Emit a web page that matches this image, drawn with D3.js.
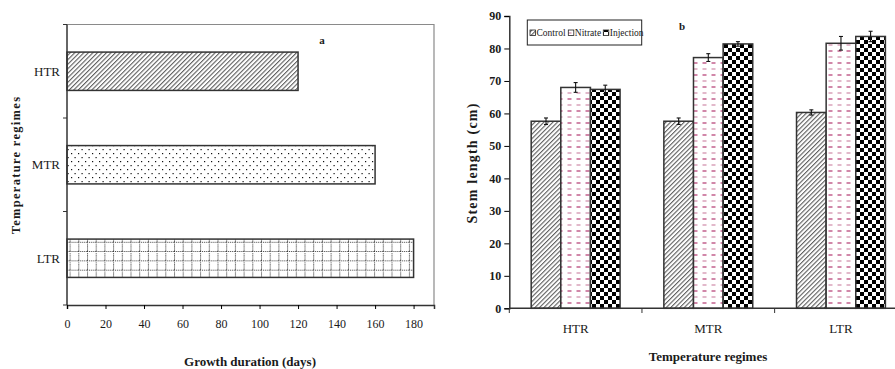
<!DOCTYPE html>
<html><head><meta charset="utf-8">
<script src="https://cdn.jsdelivr.net/npm/d3@7/dist/d3.min.js"></script>
<style>body{margin:0;background:#fff}svg{display:block}text{font-family:"Liberation Serif","Times New Roman",serif;fill:#1a1a1a}</style>
</head><body><svg id="c" width="895" height="369"></svg>
<script>
// ---- data: panel a ----
const regimesA = ["HTR", "MTR", "LTR"];
const growthDays = [120, 160, 180];
const ticksA = [0, 20, 40, 60, 80, 100, 120, 140, 160, 180];
// ---- data: panel b ----
const regimesB = ["HTR", "MTR", "LTR"];
const seriesB = ["Control", "Nitrate", "Injection"];
const controlVals = [57.6, 57.6, 60.3];
const nitrateVals = [68.0, 77.2, 81.6];
const injectionVals = [67.4, 81.4, 83.7];
const controlErr = [1.0, 1.0, 0.8];
const nitrateErr = [1.5, 1.2, 2.1];
const injectionErr = [1.3, 0.7, 1.6];
const ticksB = [0, 10, 20, 30, 40, 50, 60, 70, 80, 90];

const svg = d3.select("#c");
const defs = svg.append("defs");
// patterns
function pat(id, w, h, tr) {
  const p = defs.append("pattern").attr("id", id).attr("patternUnits", "userSpaceOnUse")
    .attr("width", w).attr("height", h);
  if (tr) p.attr("patternTransform", tr);
  p.append("rect").attr("width", w).attr("height", h).attr("fill", "#fff");
  return p;
}
let p = pat("hatch", 3.2, 3.2, "rotate(45)");
p.append("line").attr("x1", 0.6).attr("x2", 0.6).attr("y1", 0).attr("y2", 3.2).attr("stroke", "#3a3a3a").attr("stroke-width", 0.9);
p = pat("dash", 9, 12);
p.append("line").attr("x1", 0.5).attr("x2", 4.5).attr("y1", 3).attr("y2", 3).attr("stroke", "#b3366f").attr("stroke-width", 1.2);
p.append("line").attr("x1", 0.5).attr("x2", 4.5).attr("y1", 9).attr("y2", 9).attr("stroke", "#d08aa9").attr("stroke-width", 1.2);
p = pat("check", 8, 8);
p.append("rect").attr("x", 0).attr("y", 0).attr("width", 4).attr("height", 4).attr("fill", "#000");
p.append("rect").attr("x", 4).attr("y", 4).attr("width", 4).attr("height", 4).attr("fill", "#000");
p = pat("dots", 7, 8);
p.append("rect").attr("x", 1).attr("y", 1).attr("width", 1.2).attr("height", 1.2).attr("fill", "#111");
p.append("rect").attr("x", 4.5).attr("y", 5).attr("width", 1.2).attr("height", 1.2).attr("fill", "#111");
p = pat("grid", 8.7, 9.3);
p.append("line").attr("x1", 0.5).attr("x2", 0.5).attr("y1", 0).attr("y2", 9.3).attr("stroke", "#333").attr("stroke-width", 1).attr("stroke-dasharray", "1,1");
p.append("line").attr("x1", 0).attr("x2", 8.7).attr("y1", 0.5).attr("y2", 0.5).attr("stroke", "#333").attr("stroke-width", 1).attr("stroke-dasharray", "1,1");

// ================= Panel a =================
const xA = d3.scaleLinear().domain([0, 190.6]).range([67, 434]);
const yA = d3.scaleBand().domain(regimesA).range([24.5, 305]).paddingInner(0.59).paddingOuter(0.295);
const yAstep = d3.scaleBand().domain(regimesA).range([24.5, 305]);
const fillA = ["url(#hatch)", "url(#dots)", "url(#grid)"];

// border top/right
svg.append("path").attr("d", `M67,24.5H434V305`).attr("fill", "none").attr("stroke", "#8a8a8a").attr("stroke-width", 1.2);
svg.selectAll(".barA").data(regimesA).join("rect")
  .attr("x", xA(0)).attr("y", d => yA(d))
  .attr("width", (d, i) => xA(growthDays[i]) - xA(0)).attr("height", yA.bandwidth())
  .attr("fill", (d, i) => fillA[i]).attr("stroke", "#333").attr("stroke-width", 1.5);

// axes a
const gxA = svg.append("g").attr("transform", "translate(0,305)")
  .call(d3.axisBottom(xA).tickValues(ticksA).tickSize(4).tickPadding(10));
gxA.selectAll("text").attr("font-size", 12).style("font-family", "Liberation Serif");
const yTickPos = [24.5, ...regimesA.map(d => yAstep(d) + yAstep.step())];
svg.append("g").selectAll("line").data(yTickPos).join("line")
  .attr("x1", 63).attr("x2", 67).attr("y1", d => d).attr("y2", d => d).attr("stroke", "#333");
svg.append("line").attr("x1", 67).attr("x2", 67).attr("y1", 24.5).attr("y2", 305).attr("stroke", "#333").attr("stroke-width", 1.5);
gxA.select(".domain").attr("stroke", "#333").attr("stroke-width", 1.5);
svg.selectAll(".labA").data(regimesA).join("text")
  .attr("x", 60).attr("y", d => yAstep(d) + yAstep.step() / 2 + 4.5)
  .attr("text-anchor", "end").attr("font-size", 13).text(d => d);
svg.append("text").attr("transform", "translate(20,165) rotate(-90)").attr("text-anchor", "middle")
  .attr("font-size", 12.5).attr("font-weight", "bold").attr("letter-spacing", 1.3).text("Temperature regimes");
svg.append("text").attr("x", 250).attr("y", 366).attr("text-anchor", "middle")
  .attr("font-size", 13).attr("font-weight", "bold").text("Growth duration (days)");
svg.append("text").attr("x", 322).attr("y", 44).attr("text-anchor", "middle")
  .attr("font-size", 11).attr("font-weight", "bold").text("a");

// ================= Panel b =================
const x0 = d3.scaleBand().domain(regimesB).range([509.3, 907.3]).paddingInner(0.33).paddingOuter(0.165);
const x0step = d3.scaleBand().domain(regimesB).range([509.3, 907.3]);
const x1 = d3.scaleBand().domain(seriesB).range([0, x0.bandwidth()]);
const yB = d3.scaleLinear().domain([0, 90]).range([308.3, 16]);
const fillB = { Control: "url(#hatch)", Nitrate: "url(#dash)", Injection: "url(#check)" };
const vals = { Control: controlVals, Nitrate: nitrateVals, Injection: injectionVals };
const errs = { Control: controlErr, Nitrate: nitrateErr, Injection: injectionErr };
const recs = [];
regimesB.forEach((r, i) => seriesB.forEach(s => recs.push({ r, s, v: vals[s][i], e: errs[s][i] })));

svg.selectAll(".barB").data(recs).join("rect")
  .attr("x", d => x0(d.r) + x1(d.s)).attr("y", d => yB(d.v))
  .attr("width", x1.bandwidth()).attr("height", d => yB(0) - yB(d.v))
  .attr("fill", d => fillB[d.s]).attr("stroke", "#333").attr("stroke-width", 1.5);
const eg = svg.append("g").attr("stroke", "#111").attr("stroke-width", 1.1);
recs.forEach(d => {
  const cx = x0(d.r) + x1(d.s) + x1.bandwidth() / 2;
  eg.append("line").attr("x1", cx).attr("x2", cx).attr("y1", yB(d.v + d.e)).attr("y2", yB(d.v - d.e));
  eg.append("line").attr("x1", cx - 2).attr("x2", cx + 2).attr("y1", yB(d.v + d.e)).attr("y2", yB(d.v + d.e));
  eg.append("line").attr("x1", cx - 2).attr("x2", cx + 2).attr("y1", yB(d.v - d.e)).attr("y2", yB(d.v - d.e));
});

const gyB = svg.append("g").attr("transform", "translate(509.3,0)")
  .call(d3.axisLeft(yB).tickValues(ticksB).tickSize(5).tickPadding(3));
gyB.selectAll("text").attr("font-size", 12).attr("font-weight", "bold").style("font-family", "Liberation Serif");
gyB.select(".domain").attr("stroke", "#333").attr("stroke-width", 1.5);
svg.append("line").attr("x1", 509.3).attr("x2", 895).attr("y1", 308.3).attr("y2", 308.3).attr("stroke", "#333").attr("stroke-width", 1.5);
const xbTicks = regimesB.map(d => x0step(d));
svg.append("g").selectAll("line").data(xbTicks).join("line")
  .attr("x1", d => d).attr("x2", d => d).attr("y1", 308.3).attr("y2", 313).attr("stroke", "#333");
svg.selectAll(".labB").data(regimesB).join("text")
  .attr("x", d => x0(d) + x0.bandwidth() / 2).attr("y", 333)
  .attr("text-anchor", "middle").attr("font-size", 13).text(d => d);
svg.append("text").attr("x", 708).attr("y", 361).attr("text-anchor", "middle")
  .attr("font-size", 13).attr("font-weight", "bold").text("Temperature regimes");
svg.append("text").attr("transform", "translate(477,163) rotate(-90)").attr("text-anchor", "middle")
  .attr("font-size", 14).attr("font-weight", "bold").attr("letter-spacing", 1.2).text("Stem length (cm)");
svg.append("text").attr("x", 682).attr("y", 30).attr("text-anchor", "middle")
  .attr("font-size", 11).attr("font-weight", "bold").text("b");

// legend
const lg = svg.append("g");
lg.append("rect").attr("x", 527.3).attr("y", 20).attr("width", 114.4).attr("height", 25)
  .attr("fill", "#fff").attr("stroke", "#222").attr("stroke-width", 1);
const legX = [530, 568.3, 603.3];
seriesB.forEach((s, i) => {
  lg.append("rect").attr("x", legX[i]).attr("y", 30).attr("width", 5.5).attr("height", 5.5)
    .attr("fill", fillB[s]).attr("stroke", "#222").attr("stroke-width", 0.8);
  lg.append("text").attr("x", legX[i] + 6.5).attr("y", 36).attr("font-size", 9.5).text(s);
});
</script></body></html>
